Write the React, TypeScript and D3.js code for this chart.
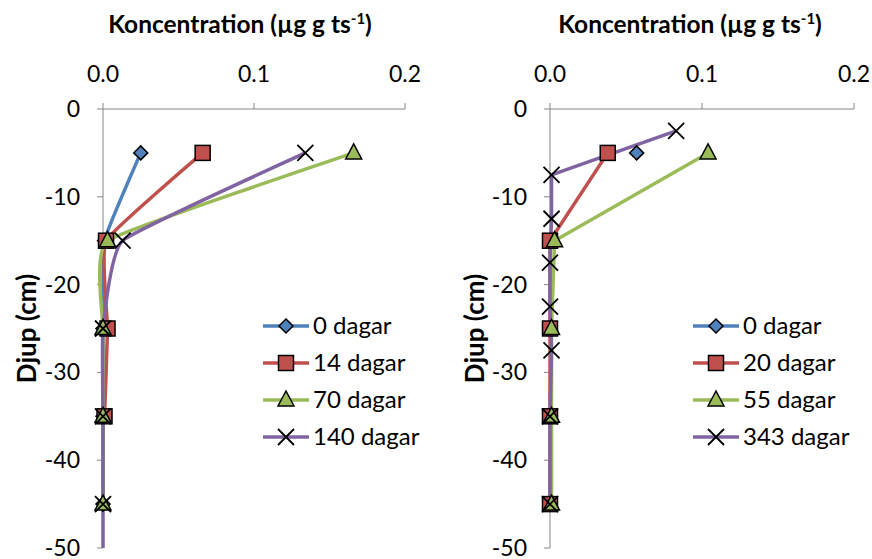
import React, { useEffect, useRef } from 'react';
import * as d3 from 'd3';

type Pt = [number, number];

// vänster diagram
const leftLabels = ['0 dagar', '14 dagar', '70 dagar', '140 dagar'];
const left0: Pt[] = [[0.025, -5], [0.001, -15], [0.0, -25], [0.0, -35], [0.0, -45]];
const left14: Pt[] = [[0.066, -5], [0.002, -15], [0.003, -25], [0.001, -35]];
const left70: Pt[] = [[0.166, -5], [0.003, -15], [0.0, -25], [0.0, -35], [0.0, -45]];
const left140: Pt[] = [[0.134, -5], [0.013, -15], [0.0, -25], [0.0, -35], [0.0, -45], [0.0, -55]];

// höger diagram
const rightLabels = ['0 dagar', '20 dagar', '55 dagar', '343 dagar'];
const right0: Pt[] = [[0.057, -5]];
const right20: Pt[] = [[0.038, -5], [0.0, -15], [0.0, -25], [0.0, -35], [0.0, -45]];
const right55: Pt[] = [[0.104, -5], [0.003, -15], [0.001, -25], [0.001, -35], [0.001, -45]];
const right343: Pt[] = [[0.083, -2.5], [0.001, -7.5], [0.001, -12.5], [0.0, -17.5], [0.0, -22.5], [0.001, -27.5], [0.0, -35], [0.0, -45]];

const xTicks = [0, 0.1, 0.2];
const yTicks = [0, -10, -20, -30, -40, -50];

const colors = ['#4F81BD', '#C0504D', '#9BBB59', '#8064A2'];
const shapes = ['diamond', 'square', 'triangle', 'x'];
const FONT = 'Lato, "Liberation Sans", sans-serif';

const App: React.FC = () => {
  const svgRef = useRef<SVGSVGElement>(null);

  useEffect(() => {
    if (!svgRef.current) return;
    const root = d3.select(svgRef.current);
    root.selectAll('*').remove();

    const drawMarker = (g: d3.Selection<SVGGElement, unknown, null, undefined>, shape: string, color: string, cx: number, cy: number) => {
      if (shape === 'diamond') {
        g.append('path')
          .attr('d', `M${cx},${cy - 7}L${cx + 7},${cy}L${cx},${cy + 7}L${cx - 7},${cy}Z`)
          .attr('fill', color).attr('stroke', '#000').attr('stroke-width', 1.5);
      } else if (shape === 'square') {
        g.append('rect')
          .attr('x', cx - 7.5).attr('y', cy - 7.5).attr('width', 15).attr('height', 15)
          .attr('fill', color).attr('stroke', '#000').attr('stroke-width', 1.5);
      } else if (shape === 'triangle') {
        g.append('path')
          .attr('d', `M${cx},${cy - 9}L${cx + 8},${cy + 6}L${cx - 8},${cy + 6}Z`)
          .attr('fill', color).attr('stroke', '#000').attr('stroke-width', 1.5);
      } else {
        g.append('path')
          .attr('d', `M${cx - 8},${cy - 8}L${cx + 8},${cy + 8}M${cx + 8},${cy - 8}L${cx - 8},${cy + 8}`)
          .attr('stroke', '#000').attr('stroke-width', 1.8).attr('fill', 'none');
      }
    };

    const panel = (id: string, x0: number, x1: number, series: Pt[][], labels: string[], smooth: boolean, legendX: number, titleX: number, yTitleX: number) => {
      const x = d3.scaleLinear().domain([0, 0.2]).range([x0, x1]);
      const y = d3.scaleLinear().domain([0, -50]).range([109, 548]);
      const g = root.append('g');

      g.append('defs').append('clipPath').attr('id', id)
        .append('rect').attr('x', x0 - 20).attr('y', y(0) - 20).attr('width', x1 - x0 + 40).attr('height', y(-50) - y(0) + 20);

      // axlar
      g.append('line').attr('x1', x(0)).attr('x2', x(0.2)).attr('y1', y(0)).attr('y2', y(0)).attr('stroke', '#868686');
      g.append('line').attr('x1', x(0)).attr('x2', x(0)).attr('y1', y(0)).attr('y2', y(-50)).attr('stroke', '#868686');
      xTicks.forEach(t => {
        g.append('line').attr('x1', x(t)).attr('x2', x(t)).attr('y1', y(0)).attr('y2', y(0) - 6).attr('stroke', '#868686');
        g.append('text').attr('x', x(t)).attr('y', 82).attr('text-anchor', 'middle')
          .attr('font-family', FONT).attr('font-size', 23).attr('fill', '#000').text(t.toFixed(1));
      });
      yTicks.forEach(t => {
        g.append('line').attr('x1', x(0) - 6).attr('x2', x(0)).attr('y1', y(t)).attr('y2', y(t)).attr('stroke', '#868686');
        g.append('text').attr('x', x(0) - 23).attr('y', y(t)).attr('dy', '0.35em').attr('text-anchor', 'end')
          .attr('font-family', FONT).attr('font-size', 23).attr('fill', '#000').text(String(t));
      });

      // titlar
      const title = g.append('text').attr('x', titleX).attr('y', 33).attr('text-anchor', 'middle')
        .attr('font-family', FONT).attr('font-size', 24.5).attr('font-weight', 'bold').attr('fill', '#000');
      title.append('tspan').text('Koncentration (µg g ts');
      title.append('tspan').attr('font-size', 15).attr('dy', -9).text('-1');
      title.append('tspan').attr('dy', 9).text(')');

      g.append('text').attr('transform', `translate(${yTitleX},${(y(-20) + y(-30)) / 2}) rotate(-90)`)
        .attr('text-anchor', 'middle').attr('font-family', FONT).attr('font-size', 26).attr('font-weight', 'bold')
        .attr('fill', '#000').text('Djup (cm)');

      // linjer
      const line = d3.line<Pt>().x(d => x(d[0])).y(d => y(d[1]))
        .curve(smooth ? d3.curveCardinal.tension(0.65) : d3.curveLinear);
      const plot = g.append('g').attr('clip-path', `url(#${id})`);
      series.forEach((s, i) => {
        if (s.length > 1) {
          plot.append('path').datum(s).attr('d', line).attr('fill', 'none')
            .attr('stroke', colors[i]).attr('stroke-width', 3.5).attr('stroke-linejoin', 'round');
        }
      });
      series.forEach((s, i) => {
        s.filter(d => d[1] >= -50).forEach(d => drawMarker(plot, shapes[i], colors[i], x(d[0]), y(d[1])));
      });

      // legend
      labels.forEach((lab, i) => {
        const ly = 326 + i * 37;
        g.append('line').attr('x1', legendX).attr('x2', legendX + 46).attr('y1', ly).attr('y2', ly)
          .attr('stroke', colors[i]).attr('stroke-width', 3.5);
        drawMarker(g, shapes[i], colors[i], legendX + 23, ly);
        g.append('text').attr('x', legendX + 50).attr('y', ly).attr('dy', '0.35em')
          .attr('font-family', FONT).attr('font-size', 24).attr('fill', '#000').text(lab);
      });
    };

    panel('clipL', 103, 405, [left0, left14, left70, left140], leftLabels, true, 263, 240, 36);
    panel('clipR', 550, 854, [right0, right20, right55, right343], rightLabels, false, 693, 690, 484);
  }, []);

  return (
    <svg ref={svgRef} width={872} height={559}
      style={{ position: 'absolute', left: 0, top: 0, background: '#fff' }} />
  );
};

export default App;
